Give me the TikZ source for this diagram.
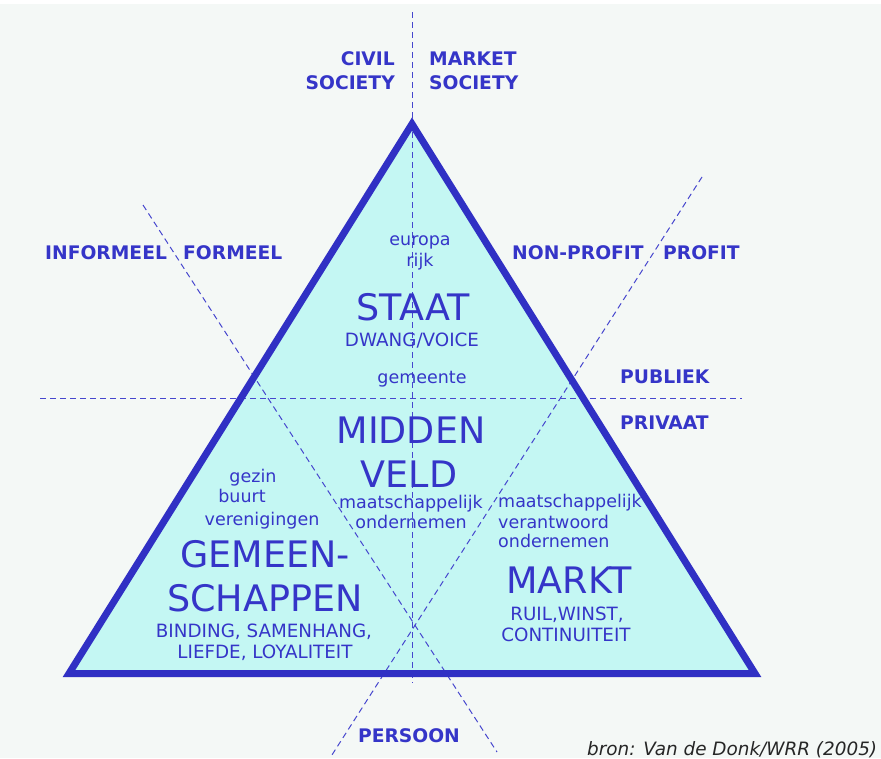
\documentclass[tikz,border=0pt]{standalone}
\usepackage{fontspec}
\setmainfont{DejaVu Sans}
\definecolor{bgpale}{HTML}{F4F8F6}
\definecolor{tricyan}{HTML}{C4F7F3}
\definecolor{triedge}{HTML}{3030C4}
\definecolor{txtblue}{HTML}{3535C8}
\definecolor{dashblue}{HTML}{4646CE}

\begin{document}
\begin{tikzpicture}[x=1pt,y=-1pt,
    outer/.style={text=txtblue,inner sep=0pt,font=\bfseries\fontsize{18.7}{22}\selectfont},
    big/.style={text=txtblue,inner sep=0pt,font=\fontsize{36.5}{40}\selectfont},
    caps/.style={text=txtblue,inner sep=0pt,font=\fontsize{18.3}{21}\selectfont},
    small/.style={text=txtblue,inner sep=0pt,font=\fontsize{17.5}{20}\selectfont},
    guide/.style={dashblue,line width=1pt,dash pattern=on 6pt off 4pt}]
    % Background
    \fill[white] (0,0) rectangle (881,758);
    \fill[bgpale] (0,4) rectangle (881,758);
    \useasboundingbox (0,0) rectangle (881,758);

    % Triangle
    \coordinate (top) at (412,124);
    \coordinate (left) at (69,673.5);
    \coordinate (right) at (755,673.5);
    \fill[tricyan] (top) -- (right) -- (left) -- cycle;

    % Dashed guide lines
    \coordinate (vtop) at (412,12);
    \coordinate (vbot) at (412,683);
    \coordinate (hleft) at (40,398);
    \coordinate (hright) at (742,398);
    \coordinate (dltop) at (143,205);
    \coordinate (dlbot) at (497,752);
    \coordinate (drtop) at (702,177);
    \coordinate (drbot) at (330,758);
    \draw[guide] (vtop) -- (vbot);
    \draw[guide] (hleft) -- (hright);
    \draw[guide] (dltop) -- (dlbot);
    \draw[guide] (drtop) -- (drbot);

    \draw[triedge,line width=7pt,line join=miter] (top) -- (right) -- (left) -- cycle;

    % Outer labels
    \node[outer,anchor=base east] (civil) at (395,65) {CIVIL};
    \node[outer,anchor=base east] (civsoc) at (395,89) {SOCIETY};
    \node[outer,anchor=base west] (market) at (429,65) {MARKET};
    \node[outer,anchor=base west] (marsoc) at (429,89) {SOCIETY};
    \node[outer,anchor=base west] (informeel) at (45,259) {INFORMEEL};
    \node[outer,anchor=base west] (formeel) at (183,259) {FORMEEL};
    \node[outer,anchor=base west] (nonprofit) at (512,259) {NON-PROFIT};
    \node[outer,anchor=base west] (profit) at (663,259) {PROFIT};
    \node[outer,anchor=base west] (publiek) at (620,383) {PUBLIEK};
    \node[outer,anchor=base west] (privaat) at (620,429) {PRIVAAT};
    \node[outer,anchor=base] (persoon) at (409,742) {PERSOON};

    % Staat
    \node[small,anchor=base] (europa) at (420,245) {europa};
    \node[small,anchor=base] (rijk) at (420,266) {rijk};
    \node[big,anchor=base] (staat) at (413,320) {STAAT};
    \node[caps,anchor=base] (dwang) at (412,346) {DWANG/VOICE};
    \node[small,anchor=base] (gemeente) at (422,383) {gemeente};

    % Middenveld
    \node[big,anchor=base] (midden) at (411,443) {MIDDEN};
    \node[big,anchor=base] (veld) at (409,487) {VELD};
    \node[small,anchor=base] (mvmaat) at (411,508) {maatschappelijk};
    \node[small,anchor=base] (mvond) at (411,528) {ondernemen};

    % Gemeenschappen
    \node[small,anchor=base] (gezin) at (253,482) {gezin};
    \node[small,anchor=base] (buurt) at (242,502) {buurt};
    \node[small,anchor=base] (vereniging) at (262,525) {verenigingen};
    \node[big,anchor=base] (gemeen) at (265,567) {GEMEEN-};
    \node[big,anchor=base] (schappen) at (265,611) {SCHAPPEN};
    \node[caps,anchor=base] (binding) at (264,637) {BINDING, SAMENHANG,};
    \node[caps,anchor=base] (liefde) at (265,658) {LIEFDE, LOYALITEIT};

    % Markt
    \node[small,anchor=base west] (mkmaat) at (498,507) {maatschappelijk};
    \node[small,anchor=base west] (mkverant) at (498,528) {verantwoord};
    \node[small,anchor=base west] (mkond) at (498,547) {ondernemen};
    \node[big,anchor=base] (markt) at (569,593) {MARKT};
    \node[caps,anchor=base] (ruil) at (567,620) {RUIL,WINST,};
    \node[caps,anchor=base] (continu) at (566,641) {CONTINUITEIT};

    % Source
    \node[anchor=base west,inner sep=0pt,font=\itshape\fontsize{18.4}{20}\selectfont,text=black!85] (bron) at (587,755) {bron: Van de Donk/WRR (2005)};
\end{tikzpicture}
\end{document}
